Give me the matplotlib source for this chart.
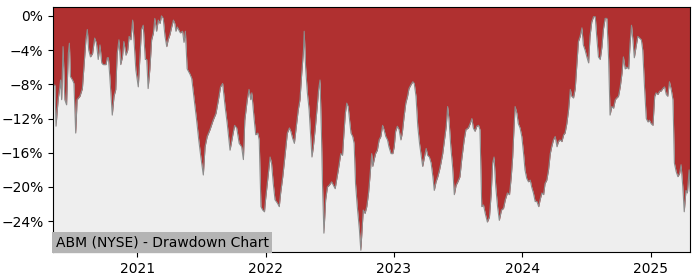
import matplotlib
matplotlib.use("Agg")
import matplotlib.pyplot as plt
import matplotlib.dates as mdates
from matplotlib.ticker import PercentFormatter, MultipleLocator
import pandas as pd

title = "ABM (NYSE) - Drawdown Chart"
base_date = "2021-01-01"

# observation dates as day offsets from base_date
day_offsets = [
    -239, -234, -231, -225, -220, -218, -215, -211, -206, -201, -196, -193, -190, -184, -180,
    -175, -171, -163, -156, -152, -146, -142, -138, -133, -127, -121, -116, -111, -106, -101,
    -97, -89, -85, -82, -78, -71, -66, -61, -57, -52, -47, -42, -38, -32, -27, -23, -18, -13,
    -8, -4, 3, 8, 12, 17, 23, 27, 31, 36, 41, 46, 50, 55, 60, 65, 69, 74, 79, 84, 88, 93, 98,
    103, 107, 110, 114, 120, 123, 129, 133, 137, 142, 150, 155, 161, 169, 175, 181, 188, 193,
    199, 207, 216, 224, 231, 237, 243, 250, 256,
    264, 271, 277, 283, 290, 297, 302, 306, 313, 318, 323, 326, 332, 337, 343, 347, 352, 357,
    362, 365, 371, 378, 382, 387, 392, 399, 404, 408, 414, 420, 427, 433, 437, 442, 447, 452,
    458, 463, 468, 473, 475, 479, 484, 489, 493, 497, 501, 507, 512, 516, 520, 524, 527, 531,
    536, 541, 546, 553, 558, 563, 567, 572, 579, 584, 588, 592, 596, 600, 603, 608, 613, 617,
    621, 626, 632, 636, 639, 643, 648, 653, 658, 662, 667, 670, 674, 678, 683, 688, 693, 698,
    702, 707, 712, 716, 722, 727, 731, 735, 740, 745, 750, 754, 759, 764, 769, 773, 778, 784,
    788, 793, 798, 803, 807, 812, 817, 822, 826, 831, 836, 841, 845, 850, 855, 860, 864, 869,
    874, 879, 883, 887, 892, 897, 902, 907, 912,
    918, 923, 930, 935, 942, 947, 952, 956, 961, 966, 971, 975, 980, 985, 990, 996, 1002, 1007,
    1011, 1015, 1020, 1025, 1030, 1036, 1042, 1047, 1053, 1059, 1064, 1068, 1072, 1075, 1080,
    1084, 1089, 1094, 1099, 1103, 1108, 1113, 1118, 1122, 1127, 1132, 1137, 1142, 1146, 1151,
    1156, 1160, 1165, 1170, 1175, 1179, 1184, 1189, 1194, 1198, 1203, 1208, 1213, 1217, 1222,
    1227, 1232, 1236, 1241, 1246, 1250, 1255, 1260, 1265, 1269, 1274, 1279, 1284, 1288, 1293,
    1298, 1303, 1307, 1312, 1317, 1322, 1326, 1331, 1336, 1341, 1345, 1350, 1355, 1360, 1364,
    1369, 1374, 1379, 1383, 1388, 1393, 1398, 1402, 1406, 1410, 1414, 1419, 1424, 1429, 1434,
    1438, 1443, 1448, 1453, 1457, 1462, 1467, 1472, 1476, 1481, 1486, 1490, 1495, 1500, 1505,
    1509, 1514, 1519, 1524, 1528, 1533, 1538, 1543, 1547, 1552, 1556, 1561, 1565, 1570, 1573,
]

drawdown_pct = [
    -8.1, -8.1, -12.9, -9.8, -8.3, -7.5, -9.8, -3.6, -9.8, -10.4, -4.4, -3.2, -7.1, -7.5, -7.9,
    -13.7, -9.8, -9.4, -8.5, -6.2, -2.8, -1.6, -4.0, -4.8, -4.4, -2.6, -3.2, -5.1, -3.4, -5.5,
    -5.7, -5.7, -4.9, -4.9, -7.1, -11.6, -9.4, -8.6, -4.4, -2.8, -5.7, -4.8, -3.0, -4.6, -4.0,
    -2.4, -2.8, -0.5, -3.6, -6.3, -8.3, -4.6, -1.6, -1.1, -5.1, -5.1, -8.5, -6.2, -2.8, -2.0,
    -0.3, -1.8, -0.5, -0.9, 0.0, -0.3, -2.4, -3.6, -2.8, -2.2, -1.3, -0.5, -0.9, -1.8, -1.3,
    -1.8, -2.0, -1.8, -3.1, -1.8, -6.2, -6.8, -7.3, -9.4, -12.2, -14.5, -16.5, -18.6, -15.3,
    -14.1, -13.3, -12.2, -11.4, -9.8, -8.3, -7.9, -10.6, -12.6,
    -15.7, -14.1, -12.8, -13.1, -14.9, -15.3, -16.8, -12.2, -9.8, -8.6, -9.8, -9.0, -11.8,
    -13.9, -13.7, -14.5, -22.3, -22.7, -22.9, -21.5, -19.2, -16.5, -17.2, -19.6, -21.5, -21.9,
    -22.3, -20.7, -18.8, -16.5, -13.7, -13.1, -13.5, -14.3, -14.9, -13.1, -11.0, -9.8, -6.7,
    -4.0, -1.8, -6.0, -9.0, -11.0, -13.7, -16.5, -15.3, -12.9, -10.6, -8.6, -7.5, -13.7, -19.6,
    -25.4, -21.5, -20.0, -19.8, -19.4, -19.8, -20.2, -19.2, -18.0, -16.1, -16.3, -13.7, -11.4,
    -10.2, -10.6, -11.8, -13.7, -14.1, -14.9, -19.6, -22.3, -25.0, -27.4, -25.4, -22.7, -23.1,
    -22.3, -20.7, -18.8, -16.1, -17.6, -16.8, -16.1, -15.7, -14.5, -14.1, -12.8, -13.3, -14.1,
    -14.5, -15.3, -16.1, -16.1, -15.3, -13.5, -12.9, -13.3, -14.5, -13.7, -11.8, -10.2, -9.4,
    -8.5, -8.1, -7.7, -7.9, -9.4, -12.9, -14.9, -16.1, -17.6, -16.5, -15.5, -16.3, -16.5, -17.2,
    -18.8, -20.4, -19.4, -18.8, -18.0, -17.2, -16.1, -14.5, -12.9, -10.6, -12.2, -15.3, -17.6,
    -20.9, -19.8, -19.4,
    -18.8, -16.8, -14.5, -13.3, -13.1, -12.6, -12.0, -13.1, -13.5, -12.9, -12.8, -13.3, -22.3,
    -22.1, -23.1, -24.1, -23.5, -20.7, -17.2, -16.5, -20.0, -22.3, -23.9, -22.7, -22.5, -21.5,
    -20.7, -20.9, -18.8, -16.5, -12.9, -10.6, -11.4, -12.6, -13.1, -14.1, -16.1, -18.0, -19.0,
    -19.4, -19.2, -20.0, -20.7, -21.7, -21.7, -22.3, -21.5, -20.7, -20.9, -19.6, -19.2, -18.0,
    -16.1, -15.3, -14.5, -14.1, -15.3, -14.7, -14.5, -14.7, -13.9, -13.7, -12.6, -11.0, -8.6,
    -9.4, -9.6, -8.5, -6.0, -3.0, -2.4, -1.4, -3.4, -4.0, -4.8, -5.5, -2.4, -0.7, -0.1, -0.1,
    -2.4, -4.8, -5.1, -3.6, -1.6, -0.3, -0.3, -5.1, -11.6, -10.6, -10.8, -9.8, -9.6, -9.4,
    -8.3, -6.7, -4.8, -6.2, -6.0, -6.2, -3.2, -1.1, -2.8, -4.9, -3.6, -2.4, -2.6, -2.8, -4.0,
    -8.3, -12.0, -12.4, -12.2, -12.6, -12.8, -9.4, -9.0, -9.2, -8.8, -8.8, -8.5, -8.3, -9.2,
    -9.4, -7.7, -8.6, -9.8, -17.2, -18.2, -18.8, -18.4, -17.4, -20.0, -22.9, -20.4, -20.7,
    -18.0, -20.5,
]

dates = pd.Timestamp(base_date) + pd.to_timedelta(day_offsets, unit="D")

fig = plt.figure(figsize=(7.0, 2.8), dpi=100)
ax = fig.add_axes([0.076, 0.1, 0.91, 0.874])
ax.set_facecolor("#EEEEEE")

ax.set_xlim(dates[0], dates[-1])
ax.set_ylim(-27.6, 1.0)
top = ax.get_ylim()[1]

ax.fill_between(dates, drawdown_pct, top, color="#B03030", linewidth=0)
ax.plot(dates, drawdown_pct, color="#8C8C8C", linewidth=0.8)

ax.yaxis.set_major_locator(MultipleLocator(4))
ax.yaxis.set_major_formatter(PercentFormatter(xmax=100, decimals=0))
ax.xaxis.set_major_locator(mdates.YearLocator())
ax.xaxis.set_major_formatter(mdates.DateFormatter("%Y"))
ax.tick_params(labelsize=10)
for s in ax.spines.values():
    s.set_color("black")

ax.text(0.004, 0.012, title, transform=ax.transAxes, fontsize=10, color="black",
        ha="left", va="bottom",
        bbox=dict(facecolor="#B4B4B4", edgecolor="none", boxstyle="square,pad=0.25"))

fig.savefig("out.png", dpi=100)
